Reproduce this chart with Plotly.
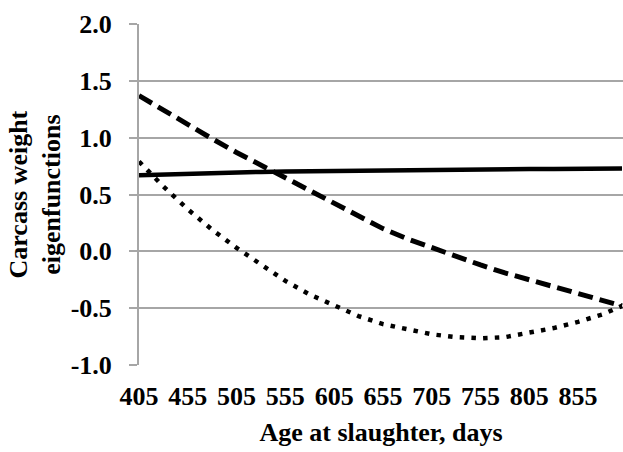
import plotly.graph_objects as go

age_days = [405, 430, 455, 480, 505, 530, 555, 580, 605, 630, 655,
            680, 705, 730, 755, 780, 805, 830, 855, 880, 900]
eigen_solid = [0.67, 0.677, 0.684, 0.69, 0.695, 0.699, 0.702, 0.705, 0.708, 0.711, 0.714,
               0.716, 0.718, 0.72, 0.721, 0.722, 0.724, 0.725, 0.726, 0.727, 0.728]
eigen_dashed = [1.37, 1.24, 1.11, 0.99, 0.87, 0.76, 0.64, 0.53, 0.42, 0.31, 0.20,
                0.11, 0.03, -0.05, -0.12, -0.19, -0.25, -0.32, -0.38, -0.44, -0.48]
eigen_dotted = [0.79, 0.57, 0.37, 0.19, 0.03, -0.12, -0.26, -0.38, -0.48, -0.57, -0.64,
                -0.69, -0.73, -0.755, -0.765, -0.755, -0.72, -0.675, -0.62, -0.555, -0.48]

x_ticks = [405, 455, 505, 555, 605, 655, 705, 755, 805, 855]
y_ticks = [-1.0, -0.5, 0.0, 0.5, 1.0, 1.5, 2.0]

FONT = "Liberation Serif"

fig = go.Figure()
fig.add_trace(go.Scatter(x=age_days, y=eigen_dotted, mode="lines",
                         line=dict(color="black", width=4.5, dash="4.5px,7.2px")))
fig.add_trace(go.Scatter(x=age_days, y=eigen_dashed, mode="lines",
                         line=dict(color="black", width=5, dash="15px,7px")))
fig.add_trace(go.Scatter(x=age_days, y=eigen_solid, mode="lines",
                         line=dict(color="black", width=4.5)))

fig.update_layout(
    width=623, height=452,
    margin=dict(l=139, r=0, t=24, b=87),
    plot_bgcolor="white", paper_bgcolor="white",
    showlegend=False,
    font=dict(family=FONT, color="black"),
    xaxis=dict(
        range=[405, 901], tickvals=x_ticks, ticktext=[str(v) for v in x_ticks],
        showgrid=False, zeroline=False, showline=False, ticks="",
        tickfont=dict(family=FONT, size=26, color="black", weight="bold"),
        ticklabelstandoff=13,
        title=dict(text="<b>Age at slaughter, days</b>",
                   font=dict(family=FONT, size=26, color="black"), standoff=12),
    ),
    yaxis=dict(
        range=[-1.0, 2.0], tickvals=y_ticks, ticktext=[f"{v:.1f}" for v in y_ticks],
        showgrid=True, gridcolor="#a6a6a6", gridwidth=1.5,
        zeroline=False, showline=True, linecolor="#a6a6a6", linewidth=2,
        ticks="outside", ticklen=8, tickcolor="#a6a6a6", tickwidth=1.5,
        tickfont=dict(family=FONT, size=26, color="black", weight="bold"),
        ticklabelstandoff=12,
    ),
    annotations=[dict(
        text="<b>Carcass weight<br>eigenfunctions</b>",
        xref="paper", yref="paper", x=0, y=0.5, xshift=-104,
        xanchor="center", yanchor="middle", textangle=-90, showarrow=False,
        font=dict(family=FONT, size=26, color="black"),
    )],
)

fig.write_html("out.html")
